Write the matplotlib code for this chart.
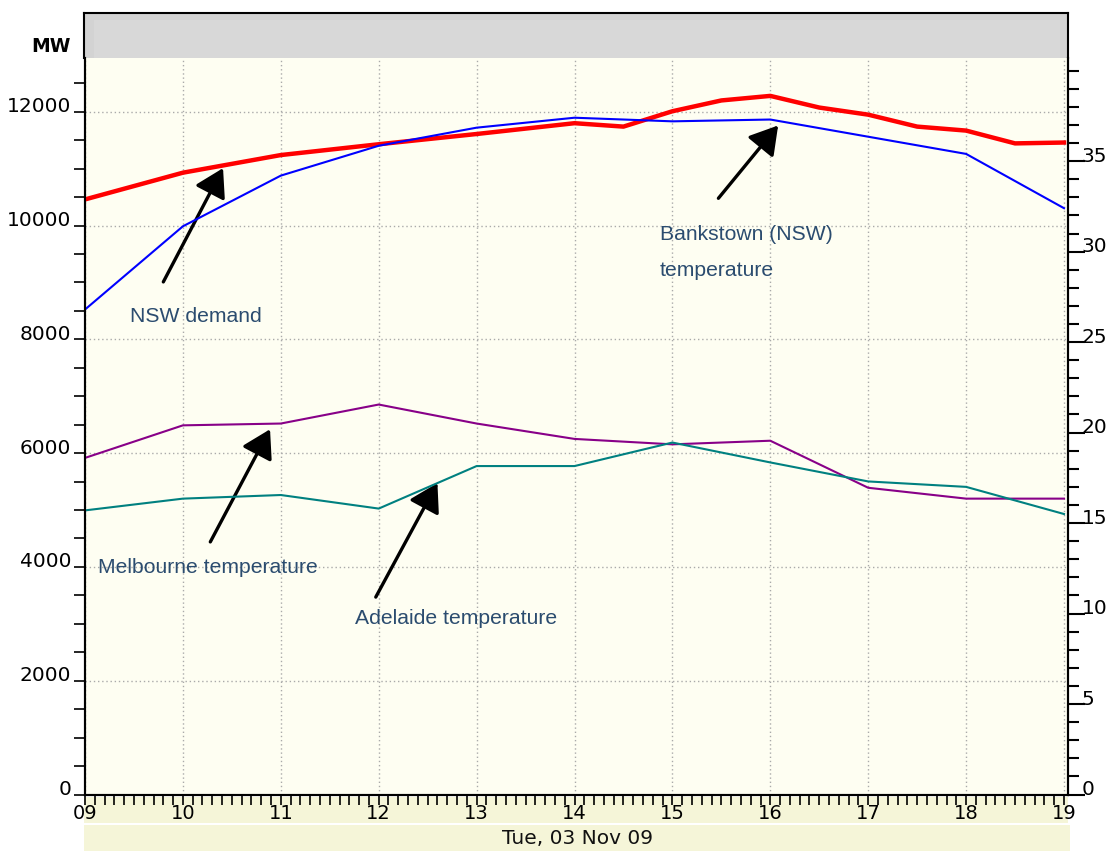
#!/usr/bin/env python3
import matplotlib
matplotlib.use("Agg")
import matplotlib.pyplot as plt
from matplotlib.ticker import MultipleLocator, FixedLocator
import matplotlib.transforms as mtransforms

# NSW demand (MW), half-hourly in the afternoon
demand_hours = [9, 10, 11, 12, 13, 14, 14.5, 15, 15.5, 16, 16.5, 17, 17.5,
                18, 18.5, 19]
nsw_demand = [10460, 10930, 11240, 11430, 11610, 11800, 11740, 12010, 12200,
              12280, 12075, 11950, 11740, 11670, 11445, 11460]

# temperatures (deg C), hourly
temp_hours = [9, 10, 11, 12, 13, 14, 15, 16, 17, 18, 19]
bankstown = [26.8, 31.4, 34.2, 35.85, 36.85, 37.4, 37.2, 37.3, 36.35, 35.4,
             32.4]
melbourne = [18.6, 20.4, 20.5, 21.55, 20.5, 19.65, 19.35, 19.55, 16.95,
             16.35, 16.35]
adelaide = [15.7, 16.35, 16.55, 15.8, 18.15, 18.15, 19.45, 18.35, 17.3,
            17.0, 15.5]

hour_labels = ["09", "10", "11", "12", "13", "14", "15", "16", "17", "18",
               "19"]
temp_ticks = [0, 5, 10, 15, 20, 25, 30, 35]
date_label = "Tue, 03 Nov 09"

W, H = 1112, 851
TXT = "#2B4C6F"
BEIGE = "#F5F5D8"


def fbox(x0, y0, x1, y1):
    # pixel box (top-left origin) -> figure fraction rect
    return [x0 / W, (H - y1) / H, (x1 - x0) / W, (y1 - y0) / H]


fig = plt.figure(figsize=(W / 100, H / 100), dpi=100)
fig.patch.set_facecolor("white")

# beige band behind x tick labels and date band
for box in [fbox(84, 797, 1068, 823), fbox(84, 825, 1070, 851)]:
    b = fig.add_axes(box, zorder=0)
    b.set_facecolor(BEIGE)
    b.set_xticks([])
    b.set_yticks([])
    for s in b.spines.values():
        s.set_visible(False)
fig.text(577 / W, (H - 838) / H, date_label, ha="center", va="center",
         fontsize=14.5, color="#111111")

# grey header strip
hdr = fig.add_axes(fbox(84, 13, 1068, 58), zorder=1)
hdr.set_facecolor("#D3D3D3")
hdr.set_xticks([])
hdr.set_yticks([])
hdr.spines["bottom"].set_visible(False)
for s in ["top", "left", "right"]:
    hdr.spines[s].set_linewidth(1.5)
inner = fig.add_axes(fbox(94, 20, 1060, 58), zorder=1.5)
inner.set_facecolor("#D8D8D8")
inner.set_xticks([])
inner.set_yticks([])
for s in inner.spines.values():
    s.set_visible(False)

ax = fig.add_axes(fbox(85, 58, 1068, 794.5), zorder=2)
ax.set_facecolor("#FEFEF2")
ax.set_xlim(9, 9 + 983 / 97.9)
ax.set_ylim(0, 12946)

ax2 = ax.twinx()
ax2.set_ylim(0, 40.7)

ax.plot(demand_hours, nsw_demand, color="#FF0000", lw=3.2, zorder=5,
        solid_joinstyle="round")
ax2.plot(temp_hours, bankstown, color="#0000FF", lw=1.5)
ax2.plot(temp_hours, melbourne, color="#880088", lw=1.5)
ax2.plot(temp_hours, adelaide, color="#008080", lw=1.5)

# grid
ax.xaxis.set_major_locator(FixedLocator(range(9, 20)))
ax.xaxis.set_minor_locator(MultipleLocator(0.1))
ax.yaxis.set_major_locator(MultipleLocator(2000))
ax.yaxis.set_minor_locator(MultipleLocator(500))
ax.grid(True, which="major", color="#AAAAAA", lw=1, ls=(0, (1, 2)))
ax.set_axisbelow(True)

ax.set_xticklabels(hour_labels)
ax.tick_params(axis="x", which="both", direction="out", length=7, width=1.2,
               labelsize=14, pad=0)
ax.tick_params(axis="y", which="both", direction="out", length=8, width=1.2,
               labelsize=14.5, pad=2)
ax2.yaxis.set_major_locator(FixedLocator(temp_ticks))
ax2.yaxis.set_minor_locator(MultipleLocator(1))
ax2.tick_params(axis="y", which="major", direction="out", length=12,
                width=1.5, labelsize=14.5, pad=-2)
ax2.tick_params(axis="y", which="minor", direction="out", length=8,
                width=1.5)
for a in (ax, ax2):
    for s in a.spines.values():
        s.set_linewidth(1.5)
ax2.spines["top"].set_visible(False)
ax.spines["top"].set_visible(False)

# labels sit a little above their ticks
up = mtransforms.ScaledTranslation(0, 7 / 100, fig.dpi_scale_trans)
for lab in ax.get_yticklabels() + ax2.get_yticklabels():
    lab.set_transform(lab.get_transform() + up)

fig.text(51 / W, (H - 47) / H, "MW", ha="center", va="center",
         fontsize=13.5, fontweight="bold")

# annotations (in MW / hour coordinates)
arrows = [
    ((10.41, 11010), (9.80, 9010)),
    ((16.08, 11760), (15.47, 10480)),
    ((10.89, 6420), (10.28, 4440)),
    ((12.60, 5475), (11.97, 3470)),
]
for tip, tail in arrows:
    ax.annotate("", xy=tip, xytext=tail, zorder=6,
                arrowprops=dict(arrowstyle="-|>,head_length=0.5,head_width=0.3",
                                color="black", lw=2.4,
                                mutation_scale=34, shrinkA=0, shrinkB=0))

notes = [
    (9.46, 8410, "NSW demand"),
    (14.87, 9850, "Bankstown (NSW)"),
    (14.87, 9215, "temperature"),
    (9.13, 3995, "Melbourne temperature"),
    (11.76, 3100, "Adelaide temperature"),
]
for x, y, t in notes:
    ax.text(x, y, t, ha="left", va="center", fontsize=15.2, color=TXT,
            family="Liberation Sans", zorder=6)

fig.savefig("out.png", dpi=100)
